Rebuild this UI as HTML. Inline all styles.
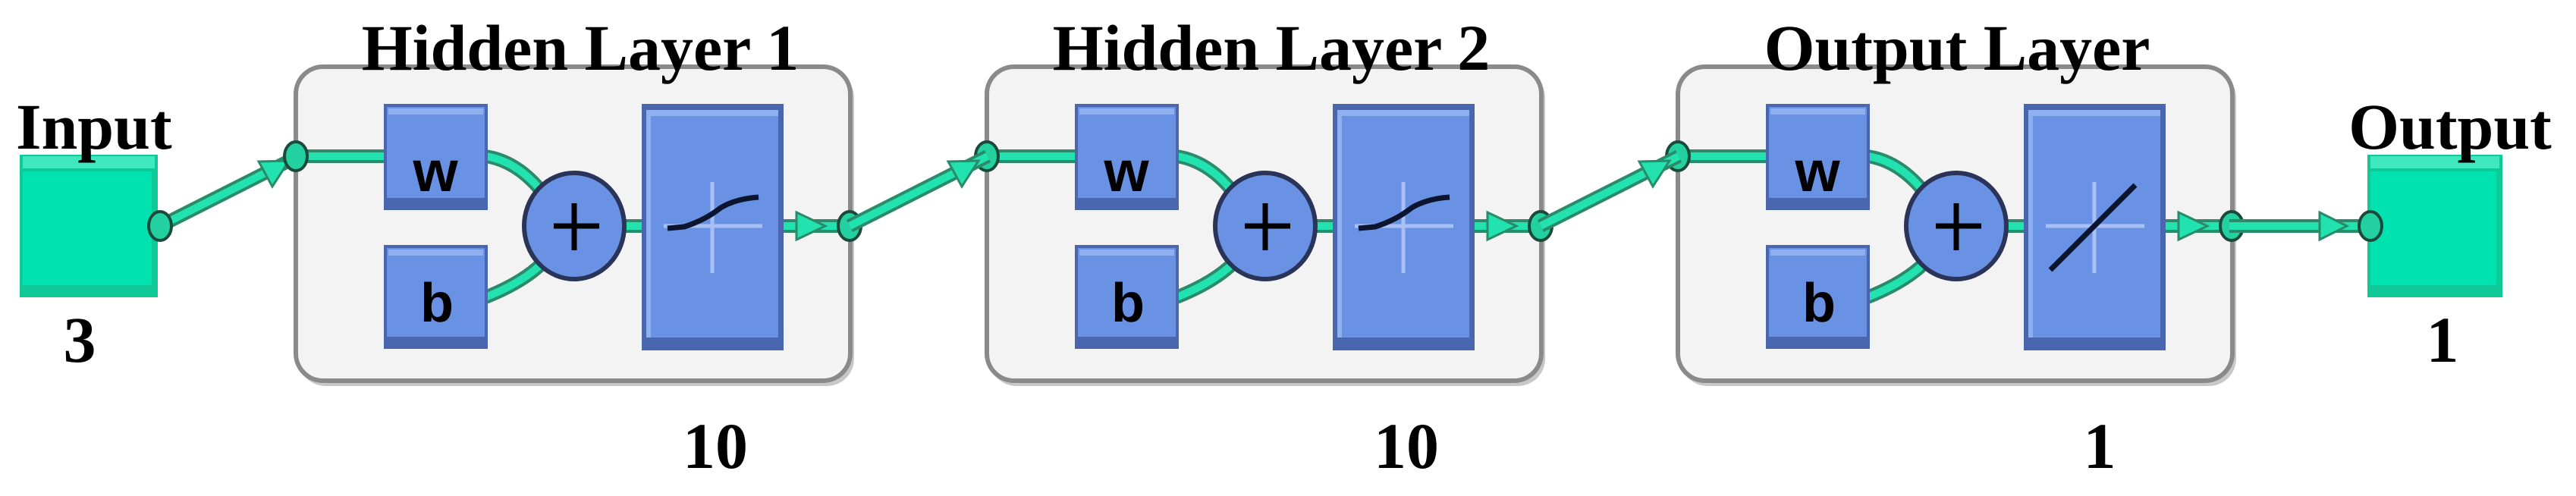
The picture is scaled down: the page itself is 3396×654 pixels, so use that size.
<!DOCTYPE html>
<html><head><meta charset="utf-8"><style>
html,body{margin:0;padding:0;background:#fff;}
svg{display:block}
text{font-family:"Liberation Serif",serif;font-weight:bold;fill:#000}
</style></head><body>
<svg width="3396" height="654" viewBox="0 0 3396 654" xmlns="http://www.w3.org/2000/svg">
<defs>
<g id="layer">
  <rect x="393" y="93" width="733" height="416" rx="36" fill="#c8c8c8"/>
  <rect x="390" y="88" width="731" height="414" rx="36" fill="#f3f3f3" stroke="#8a8a8a" stroke-width="6"/>
  <line x1="390" y1="206" x2="510" y2="206" stroke="#2a8a6a" stroke-width="18"/>
  <line x1="390" y1="206" x2="510" y2="206" stroke="#22e3b0" stroke-width="10"/>
  <path d="M640 206 Q680 212 712 250" fill="none" stroke="#2a8a6a" stroke-width="18"/>
  <path d="M640 206 Q680 212 712 250" fill="none" stroke="#22e3b0" stroke-width="10"/>
  <path d="M640 392 Q690 372 716 346" fill="none" stroke="#2a8a6a" stroke-width="18"/>
  <path d="M640 392 Q690 372 716 346" fill="none" stroke="#22e3b0" stroke-width="10"/>
  <line x1="820" y1="298" x2="850" y2="298" stroke="#2a8a6a" stroke-width="18"/>
  <line x1="820" y1="298" x2="850" y2="298" stroke="#22e3b0" stroke-width="10"/>
  <rect x="506" y="137" width="137" height="140" fill="#4a66ae"/>
  <rect x="510" y="141" width="129" height="120" fill="#6a92e4"/>
  <rect x="512" y="143" width="125" height="8" fill="#8fb0f0"/>
  <text x="574" y="252" text-anchor="middle" style="font-family:'Liberation Sans',sans-serif;font-size:76px">w</text>
  <rect x="506" y="323" width="137" height="137" fill="#4a66ae"/>
  <rect x="510" y="327" width="129" height="117" fill="#6a92e4"/>
  <rect x="512" y="329" width="125" height="8" fill="#8fb0f0"/>
  <text x="576" y="424" text-anchor="middle" style="font-family:'Liberation Sans',sans-serif;font-size:72px">b</text>
  <ellipse cx="757" cy="298" rx="66" ry="70" fill="#6a92e4" stroke="#2a3358" stroke-width="6"/>
  <line x1="730" y1="298" x2="790" y2="298" stroke="#000" stroke-width="7"/>
  <line x1="757" y1="268" x2="757" y2="330" stroke="#000" stroke-width="7"/>
  <rect x="846" y="137" width="187" height="325" fill="#4a66ae"/>
  <rect x="852" y="145" width="174" height="300" fill="#6a92e4"/>
  <rect x="852" y="145" width="174" height="8" fill="#8fb0f0"/>
  <rect x="852" y="145" width="6" height="300" fill="#8fb0f0"/>
  <line x1="1033" y1="298" x2="1120" y2="298" stroke="#2a8a6a" stroke-width="18"/>
  <line x1="1033" y1="298" x2="1120" y2="298" stroke="#22e3b0" stroke-width="10"/>
  <polygon points="1050,280 1088,298 1050,316" fill="#22e3b0" stroke="#2a8a6a" stroke-width="3"/>
  <ellipse cx="1120" cy="298" rx="15" ry="19" fill="#22d0a0" stroke="#1b4a3a" stroke-width="4"/>
  <ellipse cx="390" cy="206" rx="15" ry="19" fill="#22d0a0" stroke="#1b4a3a" stroke-width="4"/>
</g>
<g id="conn">
  <line x1="0" y1="0" x2="182" y2="-92" stroke="#2a8a6a" stroke-width="18"/>
  <line x1="0" y1="0" x2="182" y2="-92" stroke="#22e3b0" stroke-width="10"/>
  <polygon points="130,-85 170,-86 148,-52" fill="#22e3b0" stroke="#2a8a6a" stroke-width="3"/>
</g>
</defs>

<rect x="26" y="204" width="182" height="188" fill="#0fc996"/>
<rect x="30" y="226" width="170" height="150" fill="#00e3b0"/>
<rect x="30" y="206" width="174" height="16" fill="#40e8c0"/>
<text x="21" y="196" style="font-size:86px">Input</text>
<text x="105" y="477" text-anchor="middle" style="font-size:86px">3</text>
<use href="#conn" x="211" y="298"/>
<ellipse cx="211" cy="298" rx="15" ry="19" fill="#22d0a0" stroke="#1b4a3a" stroke-width="4"/>

<use href="#layer"/>
<use href="#layer" x="911"/>
<use href="#layer" x="1822"/>
<use href="#conn" x="1120" y="298"/>
<use href="#conn" x="2031" y="298"/>

<g stroke="#a8c0f4" stroke-width="5">
  <line x1="875" y1="298" x2="1005" y2="298"/><line x1="939" y1="240" x2="939" y2="360"/>
  <line x1="1786" y1="298" x2="1916" y2="298"/><line x1="1850" y1="240" x2="1850" y2="360"/>
  <line x1="2697" y1="298" x2="2827" y2="298"/><line x1="2761" y1="240" x2="2761" y2="360"/>
</g>
<path d="M880 301 L902 299 Q930 290 950 274 Q970 262 1000 260" fill="none" stroke="#0b1530" stroke-width="7"/>
<path d="M1791 301 L1813 299 Q1841 290 1861 274 Q1881 262 1911 260" fill="none" stroke="#0b1530" stroke-width="7"/>
<line x1="2703" y1="356" x2="2815" y2="244" stroke="#0b1530" stroke-width="7"/>

<text x="765" y="92" text-anchor="middle" style="font-size:86px">Hidden Layer 1</text>
<text x="1676" y="92" text-anchor="middle" style="font-size:86px">Hidden Layer 2</text>
<text x="2580" y="92" text-anchor="middle" style="font-size:86px">Output Layer</text>
<text x="943" y="617" text-anchor="middle" style="font-size:86px">10</text>
<text x="1854" y="617" text-anchor="middle" style="font-size:86px">10</text>
<text x="2768" y="617" text-anchor="middle" style="font-size:86px">1</text>

<line x1="2939" y1="298" x2="3125" y2="298" stroke="#2a8a6a" stroke-width="18"/>
<line x1="2939" y1="298" x2="3125" y2="298" stroke="#22e3b0" stroke-width="10"/>
<polygon points="3058,280 3094,298 3058,316" fill="#22e3b0" stroke="#2a8a6a" stroke-width="3"/>
<rect x="3121" y="204" width="178" height="188" fill="#0fc996"/>
<rect x="3125" y="226" width="166" height="150" fill="#00e3b0"/>
<rect x="3125" y="206" width="170" height="16" fill="#40e8c0"/>
<ellipse cx="3125" cy="298" rx="15" ry="19" fill="#22d0a0" stroke="#1b4a3a" stroke-width="4"/>
<text x="3230" y="196" text-anchor="middle" style="font-size:86px">Output</text>
<text x="3220" y="477" text-anchor="middle" style="font-size:86px">1</text>
</svg>
</body></html>
